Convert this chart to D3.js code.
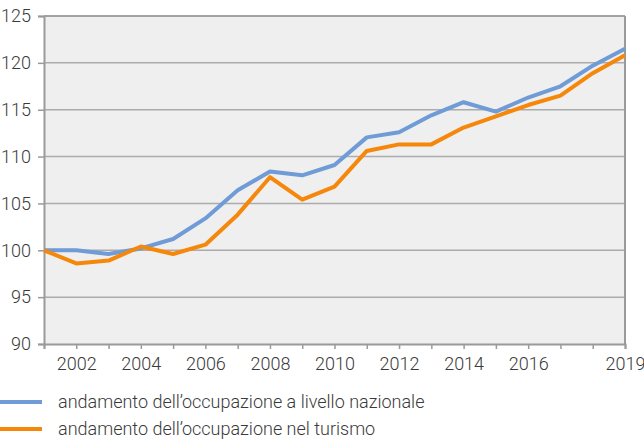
<!DOCTYPE html>
<html><head><meta charset="utf-8">
<script src="https://cdn.jsdelivr.net/npm/d3@7"></script>
<style>body{margin:0;background:#fff}svg{display:block}text{font-family:Roboto,sans-serif;font-weight:300;fill:#3a3a3a}</style>
</head><body><svg id="c" width="644" height="440"></svg>
<script>
const years = [2001,2002,2003,2004,2005,2006,2007,2008,2009,2010,2011,2012,2013,2014,2015,2016,2017,2018,2019];
const nazionale = [100,100,99.6,100.2,101.2,103.4,106.4,108.4,108.0,109.1,112.05,112.6,114.4,115.8,114.8,116.3,117.5,119.7,121.5];
const turismo = [100,98.6,98.9,100.4,99.6,100.6,103.8,107.8,105.4,106.8,110.6,111.3,111.3,113.1,114.3,115.5,116.5,118.9,120.8];
const yTicks = [90,95,100,105,110,115,120,125];
const xLabels = [2002,2004,2006,2008,2010,2012,2014,2016,2019];
const seriesNames = ["andamento dell\u2019occupazione a livello nazionale","andamento dell\u2019occupazione nel turismo"];
const colors = ["#6f9bd6","#f5870a"];

const svg = d3.select("#c");
const L=44,R=625,T=16,B=344;
const x = d3.scaleLinear().domain([2001,2019]).range([L,R]);
const y = d3.scaleLinear().domain([90,125]).range([B,T]);

svg.append("rect").attr("x",L).attr("y",T).attr("width",R-L).attr("height",B-T).attr("fill","#efefef");

// grid
svg.append("g").selectAll("line").data(yTicks.filter(d=>d>90)).join("line")
  .attr("x1",L).attr("x2",R).attr("y1",d=>y(d)).attr("y2",d=>y(d))
  .attr("stroke","#ababab").attr("stroke-width",1.5);

// y axis
const ya = svg.append("g").attr("transform",`translate(${L},0)`)
  .call(d3.axisLeft(y).tickValues(yTicks).tickSize(6).tickPadding(7));
ya.select(".domain").attr("stroke","#9a9a9a").attr("stroke-width",2);
ya.selectAll(".tick line").attr("stroke","#9a9a9a").attr("stroke-width",1.5);
ya.selectAll(".tick text").attr("font-size",18).attr("fill","#3a3a3a").attr("font-family","Roboto").attr("font-weight",300);

// x axis
const xa = svg.append("g").attr("transform",`translate(0,${B})`)
  .call(d3.axisBottom(x).tickValues(years).tickSize(5).tickFormat(d=>xLabels.includes(d)?d:"").tickPadding(8));
xa.select(".domain").attr("stroke","#9a9a9a").attr("stroke-width",2);
xa.selectAll(".tick line").attr("stroke","#9a9a9a").attr("stroke-width",1.5);
xa.selectAll(".tick text").attr("font-size",18).attr("fill","#3a3a3a").attr("font-family","Roboto").attr("font-weight",300);

// right border
svg.append("line").attr("x1",R).attr("x2",R).attr("y1",T).attr("y2",B).attr("stroke","#9a9a9a").attr("stroke-width",2);
// top border
svg.append("line").attr("x1",L).attr("x2",R).attr("y1",T).attr("y2",T).attr("stroke","#9a9a9a").attr("stroke-width",1.5);

const line = d3.line().x((d,i)=>x(years[i])).y(d=>y(d));
[nazionale,turismo].forEach((s,i)=>{
  svg.append("path").datum(s).attr("d",line).attr("fill","none")
    .attr("stroke",colors[i]).attr("stroke-width",4).attr("stroke-linejoin","round");
});

// legend
seriesNames.forEach((n,i)=>{
  const yy = 402 + i*27;
  svg.append("line").attr("x1",0).attr("x2",42).attr("y1",yy).attr("y2",yy).attr("stroke",colors[i]).attr("stroke-width",4);
  svg.append("text").attr("x",58).attr("y",yy+6).attr("font-size",18).text(n);
});
</script></body></html>
